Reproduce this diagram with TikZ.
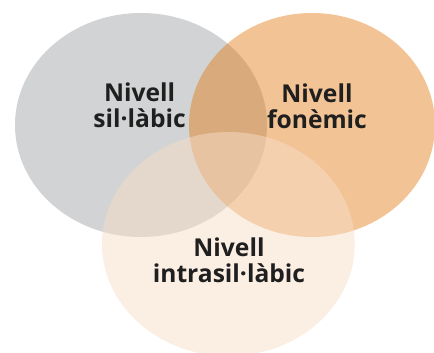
\documentclass[tikz,border=0pt]{standalone}
\usepackage{fontspec}
\setmainfont{Open Sans}
\usepackage{tikz}
\definecolor{grisnivell}{RGB}{209,211,212}
\definecolor{taronja}{RGB}{227,122,18}
\definecolor{rosat}{RGB}{247,221,199}

\begin{document}
\begin{tikzpicture}[thick,
    label/.style={align=center,font=\fontsize{17.5}{18.5}\selectfont\bfseries,text=black!88}]
      \useasboundingbox (0,0) rectangle (10.85,8.8);
      \begin{scope}
          \clip (0,0) rectangle (10.85,8.8);
          \fill[grisnivell] (3.525,5.675) ellipse (3.15 and 2.8);
          \fill[taronja,opacity=0.45] (7.8,5.675) ellipse (3.075 and 2.8);
          \fill[rosat,opacity=0.5] (5.71,2.7) ellipse (3.16 and 2.8);
      \end{scope}
      \node[label] (sil) at (3.49,6.18) {Nivell\\sil·làbic};
      \node[label] (fon) at (7.925,6.15) {Nivell\\fonèmic};
      \node[label] (intra) at (5.725,2.29) {Nivell\\intrasil·làbic};
    \end{tikzpicture}
\end{document}
